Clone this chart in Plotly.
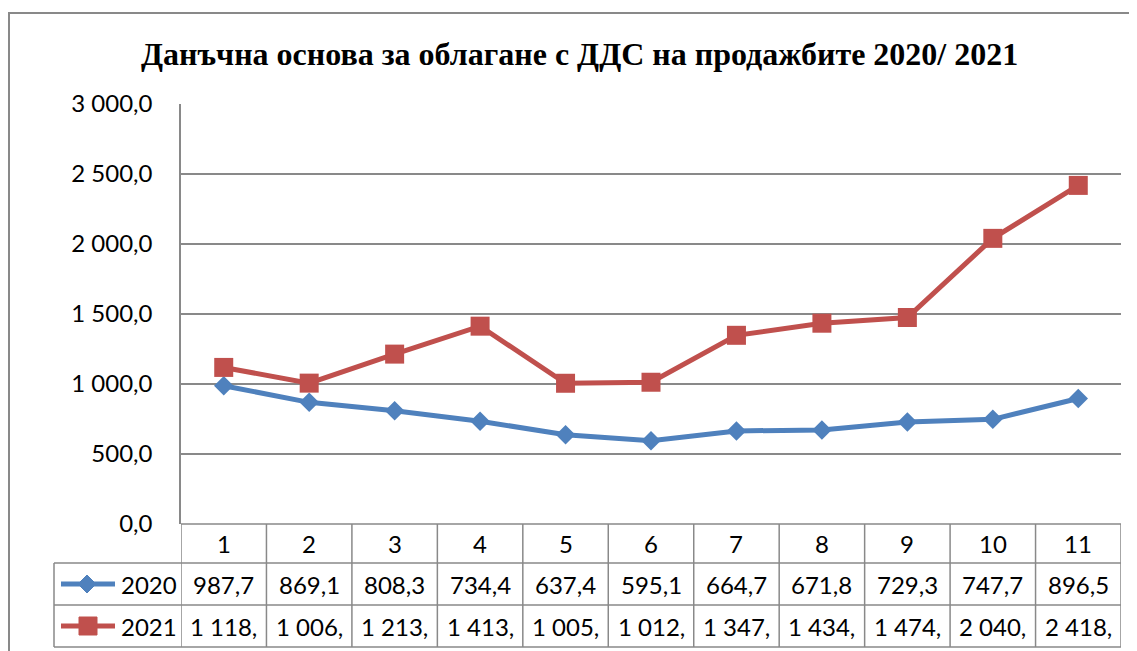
import plotly.graph_objects as go

months = [1, 2, 3, 4, 5, 6, 7, 8, 9, 10, 11]
series_names = ["2020", "2021"]
values_2020 = [987.7, 869.1, 808.3, 734.4, 637.4, 595.1, 664.7, 671.8, 729.3, 747.7, 896.5]
values_2021 = [1118.4, 1006.2, 1213.5, 1413.1, 1005.3, 1012.6, 1347.8, 1434.2, 1474.9, 2040.3, 2418.6]
y_ticks = [0, 500, 1000, 1500, 2000, 2500, 3000]
title_text = "Данъчна основа за облагане с ДДС на продажбите 2020/ 2021"

BLUE = "#4F81BD"
RED = "#C0504D"
GRID = "#898989"
OFF = 8  # browser default body margin
W, H = 1137 - OFF, 651 - OFF
L, R, T, B = 181 - OFF, 1121 - OFF, 104 - OFF, 524 - OFF
PW, PH = R - L, B - T


def xp(px):
    return (px - OFF - L) / PW


def yp(py):
    return (B - (py - OFF)) / PH


def fmt(v, clip=6):
    s = f"{v:,.1f}".replace(",", " ").replace(".", ",")
    return s[:clip]


fig = go.Figure()
fig.add_trace(go.Scatter(x=months, y=values_2020, mode="lines+markers", name=series_names[0],
                         line=dict(color=BLUE, width=5),
                         marker=dict(symbol="diamond", size=15, color=BLUE)))
fig.add_trace(go.Scatter(x=months, y=values_2021, mode="lines+markers", name=series_names[1],
                         line=dict(color=RED, width=5),
                         marker=dict(symbol="square", size=19, color=RED)))

font_main = "Lato, Calibri, 'Open Sans', sans-serif"
FS = 24
shapes = []
ann = []

# outer chart border
shapes.append(dict(type="rect", xref="paper", yref="paper", x0=xp(9), x1=xp(1160), y0=yp(13), y1=yp(670),
                   line=dict(color=GRID, width=2), layer="below"))

row_y = [524, 563, 605, 647]
shapes.append(dict(type="line", xref="paper", yref="paper", x0=0, x1=1, y0=yp(524), y1=yp(524),
                   line=dict(color=GRID, width=1.5)))
for py in row_y[1:]:
    shapes.append(dict(type="line", xref="paper", yref="paper", x0=xp(54), x1=1, y0=yp(py), y1=yp(py),
                       line=dict(color=GRID, width=1.5)))
for k in range(len(months) + 1):
    shapes.append(dict(type="line", xref="x", yref="paper", x0=k + 0.5, x1=k + 0.5, y0=yp(524), y1=yp(647),
                       line=dict(color=GRID, width=1.5)))
shapes.append(dict(type="line", xref="paper", yref="paper", x0=xp(54), x1=xp(54), y0=yp(563), y1=yp(647),
                   line=dict(color=GRID, width=1.5)))

for m in months:
    ann.append(dict(x=m, y=yp(543), xref="x", yref="paper", text=str(m), showarrow=False,
                    font=dict(family=font_main, size=FS, color="black"), xanchor="center", yanchor="middle"))
for vals, ry in ((values_2020, 584), (values_2021, 626)):
    for m, v in zip(months, vals):
        ann.append(dict(x=m, y=yp(ry), xref="x", yref="paper", text=fmt(v), showarrow=False,
                        font=dict(family=font_main, size=FS, color="black"), xanchor="center", yanchor="middle"))

for name, color, ry, sym in ((series_names[0], BLUE, 584, "diamond"), (series_names[1], RED, 626, "square")):
    shapes.append(dict(type="line", xref="paper", yref="paper", x0=xp(61), x1=xp(115), y0=yp(ry), y1=yp(ry),
                       line=dict(color=color, width=5)))
    if sym == "diamond":
        shapes.append(dict(type="path", xref="paper", yref="paper", xsizemode="pixel", ysizemode="pixel",
                           xanchor=xp(87), yanchor=yp(ry), path="M 0 9 L 9 0 L 0 -9 L -9 0 Z",
                           fillcolor=color, line=dict(color=color, width=1)))
    else:
        shapes.append(dict(type="rect", xref="paper", yref="paper", xsizemode="pixel", ysizemode="pixel",
                           xanchor=xp(88), yanchor=yp(ry), x0=-9, x1=9, y0=-9, y1=9,
                           fillcolor=color, line=dict(color=color, width=1)))
    ann.append(dict(x=xp(119), y=yp(ry), xref="paper", yref="paper", text=name, showarrow=False,
                    font=dict(family=font_main, size=FS, color="black"), xanchor="left", yanchor="middle"))

ann.append(dict(x=xp(579), y=yp(54), xref="paper", yref="paper", text="<b>" + title_text + "</b>",
                showarrow=False, font=dict(family="'Liberation Serif', 'Times New Roman', serif", size=32,
                                           color="black"), xanchor="center", yanchor="middle"))

fig.update_layout(
    width=W, height=H,
    margin=dict(l=L, r=W - R, t=T, b=H - B, pad=0),
    paper_bgcolor="white", plot_bgcolor="white",
    showlegend=False,
    separators=", ",
    shapes=shapes, annotations=ann,
    xaxis=dict(range=[0.5, 11.5], showgrid=False, showticklabels=False, zeroline=False, showline=False,
               fixedrange=True),
    yaxis=dict(range=[0, 3000], tickvals=y_ticks, tickformat=",.1f", showgrid=True, gridcolor=GRID, gridwidth=1.5,
               zeroline=False, showline=True, linecolor=GRID, linewidth=1.5,
               ticks="outside", ticklen=22, tickcolor="rgba(0,0,0,0)",
               tickfont=dict(family=font_main, size=FS, color="black"), fixedrange=True),
)

fig.write_html("out.html")
